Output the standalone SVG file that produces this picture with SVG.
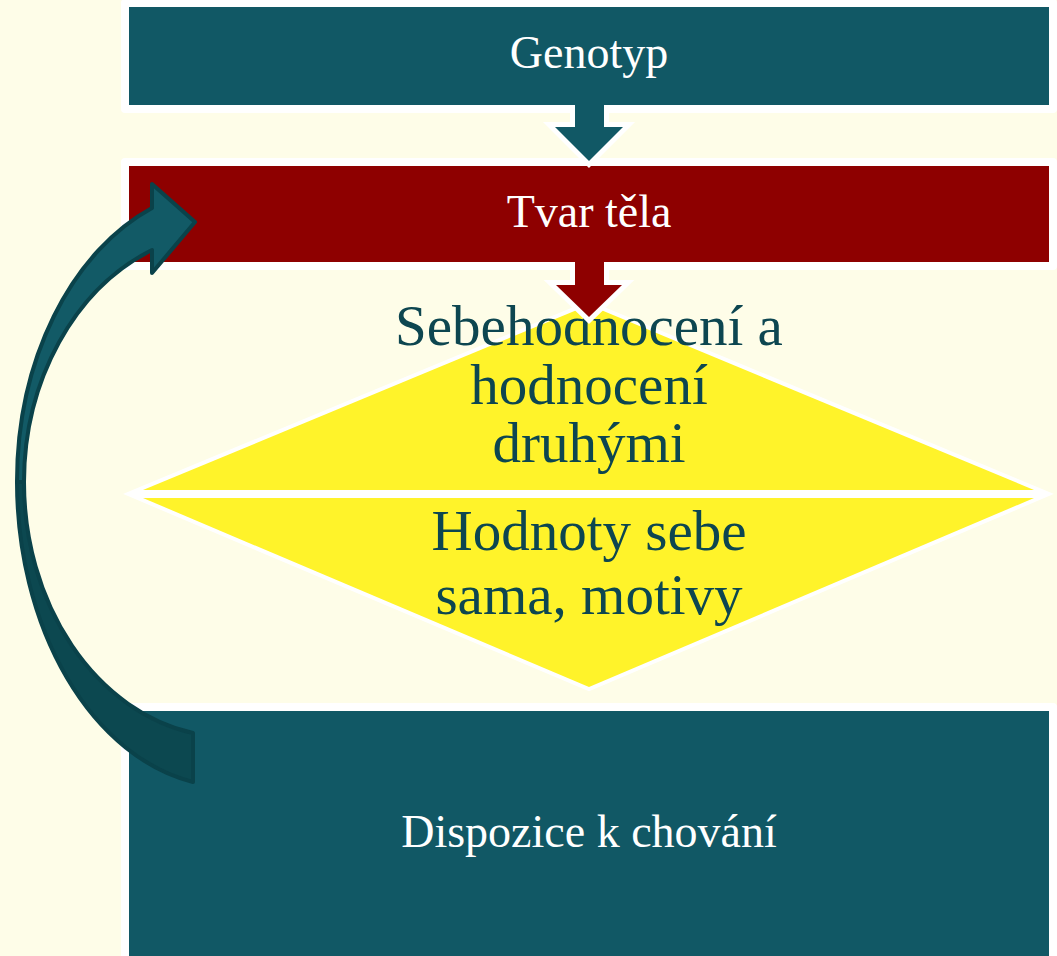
<svg xmlns="http://www.w3.org/2000/svg" width="1057" height="956" viewBox="0 0 1057 956">
<style>
.box{stroke:#FFFFFF;stroke-width:8;stroke-linejoin:round}
.teal{fill:#115865}
.red{fill:#8E0000}
.lbl{font-family:"Liberation Serif","Times New Roman",serif;font-size:46px;fill:#FFFFFF;text-anchor:middle}
.dlbl{font-family:"Liberation Serif","Times New Roman",serif;font-size:57px;fill:#0D4650;text-anchor:middle}
.tri{fill:#FFF32A;stroke:#FFFFFF;stroke-width:8;stroke-linejoin:miter;stroke-miterlimit:12;paint-order:stroke}
.down{stroke:#FFFFFF;stroke-width:10;stroke-linejoin:miter;stroke-miterlimit:10;paint-order:stroke}
.curve{stroke:#0A424A;stroke-width:4;stroke-linejoin:round}
</style>
<rect x="0" y="0" width="1057" height="956" fill="#FEFDE8"/>
<g id="genotyp">
<rect class="box teal" x="125" y="3" width="928" height="106"/>
<text class="lbl" x="589" y="68">Genotyp</text>
</g>
<g id="tvar-tela">
<rect class="box red" x="125" y="162" width="928" height="104"/>
<text class="lbl" x="589" y="227">Tvar těla</text>
</g>
<g id="diamond">
<polygon class="tri" points="589,305 143,490 1034,490"/>
<polygon class="tri" points="143,498 1034,498 589,687"/>
<text class="dlbl" x="589" y="345">Sebehodnocení a</text>
<text class="dlbl" x="589" y="404">hodnocení</text>
<text class="dlbl" x="589" y="462">druhými</text>
<text class="dlbl" x="589" y="550">Hodnoty sebe</text>
<text class="dlbl" x="589" y="614">sama, motivy</text>
</g>
<g id="dispozice">
<rect class="box teal" x="125" y="707" width="928" height="260"/>
<text class="lbl" x="589" y="847">Dispozice k chování</text>
</g>
<g id="connectors">
<path class="down teal" d="M575,105 L575,127 L555,127 L589,161 L623,127 L604,127 L604,105"/>
<path class="down red" d="M575,262 L575,285 L556,285 L589,317 L622,285 L604,285 L604,262"/>
<path class="curve" fill="#0C4850" d="M193,782 A213 305 0 0 1 17,482 L24,482 A206 255 0 0 0 193,733 Z"/>
<path class="curve" fill="#125A66" d="M152,208 A213 294 0 0 0 17,482 L24,482 A206 251 0 0 1 152,250 L152,273 L195,222 L152,184 Z"/>
</g>
</svg>
